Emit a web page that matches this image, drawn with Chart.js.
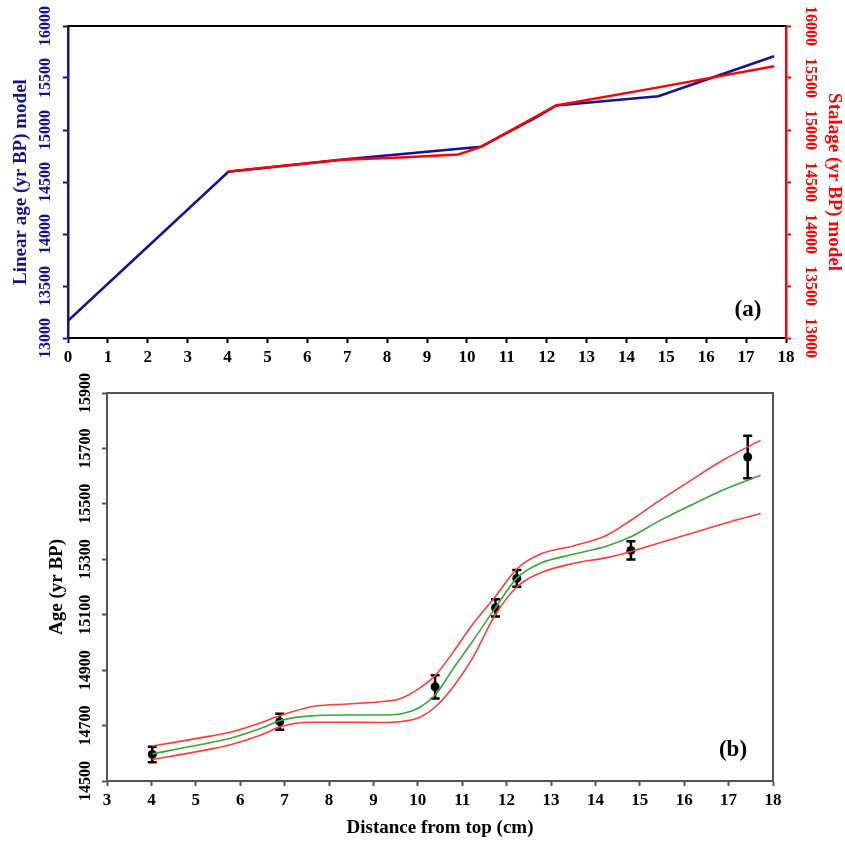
<!DOCTYPE html>
<html>
<head>
<meta charset="utf-8">
<script src="https://cdn.jsdelivr.net/npm/chart.js@4.4.0/dist/chart.umd.min.js"></script>
<style>
  html, body { margin: 0; padding: 0; background: #fff; }
  #wrap { position: relative; width: 845px; height: 843px; }
  canvas { position: absolute; left: 0; }
  #chartA { top: 0; }
  #chartB { top: 370px; }
</style>
</head>
<body>
<div id="wrap">
  <canvas id="chartA" width="845" height="370"></canvas>
  <canvas id="chartB" width="845" height="473"></canvas>
</div>
<script>
// (a) linear age model vs StalAge model
const linDepth = [0, 4.02, 6.89, 10.35, 11.76, 12.24, 14.8, 17.7];
const linAge = [13166, 14598, 14716, 14838, 15125, 15236, 15325, 15709];
const stalDepth = [4.02, 6.89, 8.33, 9.79, 10.35, 12.24, 14.8, 17.7];
const stalAge = [14600, 14714, 14736, 14765, 14838, 15236, 15410, 15613];
const topXTicks = [0, 1, 2, 3, 4, 5, 6, 7, 8, 9, 10, 11, 12, 13, 14, 15, 16, 17, 18];
const topYTicks = [13000, 13500, 14000, 14500, 15000, 15500, 16000];

// (b) dated samples and StalAge fit (median + 95% bounds)
const sampleDepth = [4.02, 6.89, 10.39, 11.75, 12.23, 14.8, 17.43];
const sampleAge = [14596, 14714, 14840, 15125, 15231, 15332, 15669];
const sampleErr = [28, 29, 42, 31, 30, 33, 77];
const fitDepth = [4.02, 5.0, 5.8, 6.5, 6.9, 7.6, 8.4, 9.15, 9.6, 10.05, 10.4, 10.8, 11.25, 11.74, 12.23, 12.75, 13.5, 14.26, 14.8, 15.4, 16.15, 16.9, 17.72];
const fitMedian = [14598, 14628, 14655, 14692, 14718, 14735, 14738, 14738, 14742, 14766, 14812, 14906, 15008, 15123, 15232, 15285, 15318, 15348, 15381, 15435, 15495, 15552, 15603];
const fitUpper = [14626, 14653, 14677, 14712, 14736, 14768, 14778, 14786, 14797, 14836, 14882, 14966, 15068, 15164, 15265, 15318, 15348, 15387, 15441, 15507, 15585, 15660, 15729];
const fitLower = [14578, 14605, 14632, 14668, 14696, 14712, 14712, 14711, 14714, 14730, 14768, 14840, 14948, 15098, 15200, 15250, 15285, 15306, 15328, 15357, 15393, 15429, 15465];
const botXTicks = [3, 4, 5, 6, 7, 8, 9, 10, 11, 12, 13, 14, 15, 16, 17, 18];
const botYTicks = [14500, 14700, 14900, 15100, 15300, 15500, 15700, 15900];

const serif = "'Liberation Serif', 'DejaVu Serif', serif";
const blue = '#14148f';
const red = '#ff0000';

function pts(xs, ys) {
  return xs.map((v, i) => ({ x: v, y: ys[i] }));
}
function setTicks(list) {
  return s => { s.ticks = list.map(v => ({ value: v })); };
}
const plain = v => String(v);

// frame lines that are not axes (top, and right for panel b)
const frame = {
  id: 'frame',
  afterDraw(chart, args, opts) {
    const { ctx, chartArea: a } = chart;
    ctx.save();
    ctx.strokeStyle = opts.color;
    ctx.lineWidth = opts.width;
    ctx.beginPath();
    ctx.moveTo(a.left, a.top);
    ctx.lineTo(a.right, a.top);
    if (opts.right) ctx.lineTo(a.right, a.bottom);
    ctx.stroke();
    ctx.restore();
  }
};

const panelLabel = {
  id: 'panelLabel',
  afterDraw(chart, args, opts) {
    const { ctx, chartArea: a } = chart;
    ctx.save();
    ctx.font = 'bold 23px ' + serif;
    ctx.fillStyle = '#000';
    ctx.textAlign = 'center';
    ctx.textBaseline = 'middle';
    ctx.fillText(opts.text, a.right - opts.dx, a.bottom - opts.dy);
    ctx.restore();
  }
};

const errorBars = {
  id: 'errorBars',
  beforeDatasetsDraw(chart) {
    const { ctx, scales: { x, y } } = chart;
    ctx.save();
    ctx.strokeStyle = '#000';
    ctx.lineWidth = 2.5;
    sampleDepth.forEach((d, i) => {
      const px = x.getPixelForValue(d);
      const top = y.getPixelForValue(sampleAge[i] + sampleErr[i]);
      const bot = y.getPixelForValue(sampleAge[i] - sampleErr[i]);
      ctx.beginPath();
      ctx.moveTo(px, top); ctx.lineTo(px, bot);
      ctx.moveTo(px - 4.5, top); ctx.lineTo(px + 4.5, top);
      ctx.moveTo(px - 4.5, bot); ctx.lineTo(px + 4.5, bot);
      ctx.stroke();
    });
    ctx.restore();
  }
};

const tickFont = { family: serif, size: 16, weight: 'bold' };
const xTickFont = { family: serif, size: 17, weight: 'bold' };
const titleFont = { family: serif, size: 19, weight: 'bold' };

new Chart(document.getElementById('chartA'), {
  type: 'line',
  data: {
    datasets: [
      {
        label: 'StalAge',
        data: pts(stalDepth, stalAge),
        yAxisID: 'y1',
        borderColor: red,
        borderWidth: 2.5,
        pointRadius: 0,
        tension: 0
      },
      {
        label: 'Linear',
        data: pts(linDepth, linAge),
        yAxisID: 'y',
        borderColor: blue,
        borderWidth: 2.5,
        pointRadius: 0,
        tension: 0
      }
    ]
  },
  options: {
    responsive: false,
    animation: false,
    devicePixelRatio: 1,
    layout: { padding: { top: 26, left: 0, right: 0, bottom: 0 } },
    plugins: {
      legend: { display: false },
      tooltip: { enabled: false },
      frame: { color: '#000', width: 2, right: false },
      panelLabel: { text: '(a)', dx: 38, dy: 28 }
    },
    scales: {
      x: {
        type: 'linear', min: 0, max: 18,
        afterBuildTicks: setTicks(topXTicks),
        afterFit: s => { s.height = 32; },
        ticks: { color: '#000', font: xTickFont, padding: 4, autoSkip: false, maxRotation: 0, callback: plain },
        grid: { drawOnChartArea: false, color: '#000', tickLength: 5, tickWidth: 2 },
        border: { color: '#000', width: 2 }
      },
      y: {
        type: 'linear', position: 'left', min: 13000, max: 16000,
        afterBuildTicks: setTicks(topYTicks),
        afterFit: s => { s.width = 68; },
        ticks: { color: blue, font: tickFont, minRotation: 90, maxRotation: 90, crossAlign: 'center', padding: -3, autoSkip: false, callback: plain },
        grid: { drawOnChartArea: false, color: blue, tickLength: 5, tickWidth: 2 },
        border: { color: blue, width: 2.5 },
        title: { display: true, text: 'Linear age (yr BP) model', color: blue, font: titleFont, padding: { top: 10, bottom: 0 } }
      },
      y1: {
        type: 'linear', position: 'right', min: 13000, max: 16000,
        afterBuildTicks: setTicks(topYTicks),
        afterFit: s => { s.width = 59; },
        ticks: { color: red, font: tickFont, minRotation: -90, maxRotation: -90, crossAlign: 'center', padding: -1, autoSkip: false, callback: plain },
        grid: { drawOnChartArea: false, color: red, tickLength: 5, tickWidth: 2 },
        border: { color: red, width: 2.5 },
        title: { display: true, text: 'Stalage (yr BP) model', color: red, font: titleFont, padding: { top: 0, bottom: 0 } }
      }
    }
  },
  plugins: [frame, panelLabel]
});

new Chart(document.getElementById('chartB'), {
  type: 'line',
  data: {
    datasets: [
      {
        label: 'upper',
        data: pts(fitDepth, fitUpper),
        borderColor: '#ff3b3b',
        borderWidth: 1.6,
        pointRadius: 0,
        cubicInterpolationMode: 'monotone'
      },
      {
        label: 'lower',
        data: pts(fitDepth, fitLower),
        borderColor: '#ff3b3b',
        borderWidth: 1.6,
        pointRadius: 0,
        cubicInterpolationMode: 'monotone'
      },
      {
        label: 'median',
        data: pts(fitDepth, fitMedian),
        borderColor: '#3aa63a',
        borderWidth: 1.6,
        pointRadius: 0,
        cubicInterpolationMode: 'monotone'
      },
      {
        label: 'samples',
        data: pts(sampleDepth, sampleAge),
        showLine: false,
        pointRadius: 4.5,
        pointBackgroundColor: '#000',
        pointBorderColor: '#000',
        pointBorderWidth: 0
      }
    ]
  },
  options: {
    responsive: false,
    animation: false,
    devicePixelRatio: 1,
    layout: { padding: { top: 23, left: 0, right: 72, bottom: 0 } },
    plugins: {
      legend: { display: false },
      tooltip: { enabled: false },
      frame: { color: '#555', width: 2, right: true },
      panelLabel: { text: '(b)', dx: 40, dy: 31 }
    },
    scales: {
      x: {
        type: 'linear', min: 3, max: 18,
        afterBuildTicks: setTicks(botXTicks),
        afterFit: s => { s.height = 62; },
        ticks: { color: '#000', font: xTickFont, padding: 4, autoSkip: false, maxRotation: 0, callback: plain },
        grid: { drawOnChartArea: false, color: '#555', tickLength: 5, tickWidth: 2 },
        border: { color: '#555', width: 2 },
        title: { display: true, text: 'Distance from top (cm)', color: '#000', font: titleFont, padding: { top: 0, bottom: 4 } }
      },
      y: {
        type: 'linear', position: 'left', min: 14500, max: 15900,
        afterBuildTicks: setTicks(botYTicks),
        afterFit: s => { s.width = 107; },
        ticks: { color: '#000', font: tickFont, minRotation: 90, maxRotation: 90, crossAlign: 'center', padding: -4, autoSkip: false, callback: plain },
        grid: { drawOnChartArea: false, color: '#555', tickLength: 5, tickWidth: 2 },
        border: { color: '#555', width: 2 },
        title: { display: true, text: 'Age (yr BP)', color: '#000', font: titleFont, padding: { top: 46, bottom: 0 } }
      }
    }
  },
  plugins: [errorBars, frame, panelLabel]
});
</script>
</body>
</html>
